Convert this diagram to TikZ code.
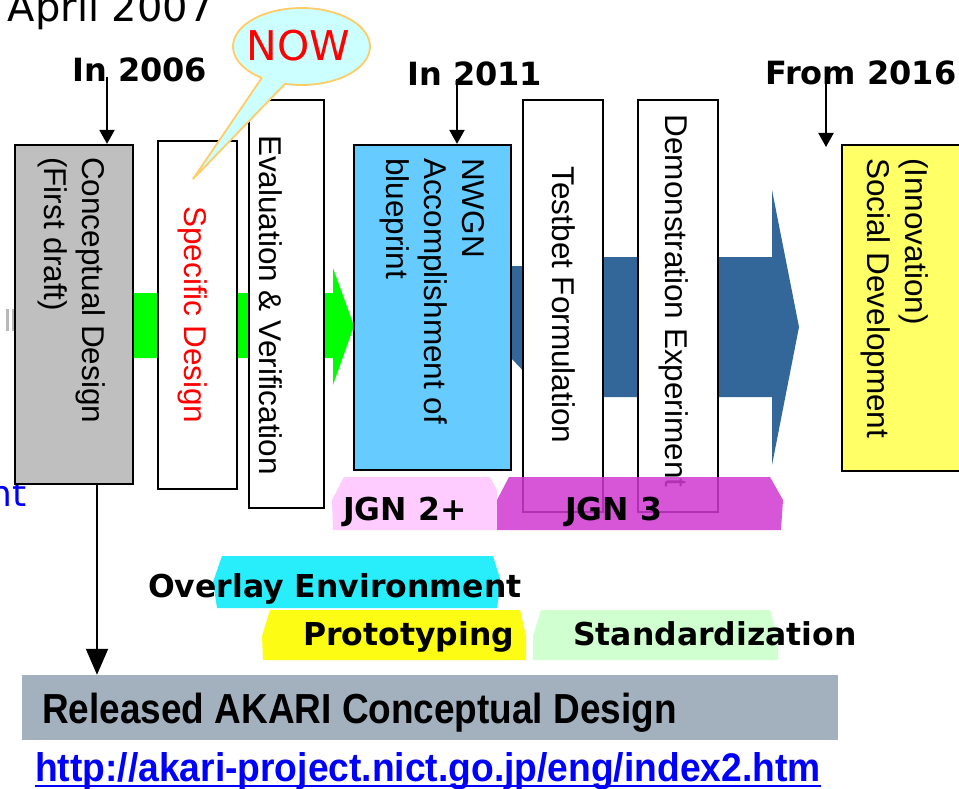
\documentclass[tikz,border=0pt]{standalone}
\usepackage{fontspec}
\usepackage{graphicx}
\setmainfont{Liberation Sans}
\newfontfamily\dejavu{DejaVu Sans}
\usetikzlibrary{arrows.meta}
\definecolor{boxgray}{RGB}{191,191,191}
\definecolor{boxblue}{RGB}{102,204,255}
\definecolor{boxyellow}{RGB}{255,255,102}
\definecolor{arrgreen}{RGB}{0,255,0}
\definecolor{arrblue}{RGB}{51,102,153}
\definecolor{relgray}{RGB}{163,177,191}
\definecolor{jgnpink}{RGB}{255,204,255}
\definecolor{jgnmag}{RGB}{208,56,208}
\definecolor{ovcyan}{RGB}{40,238,252}
\definecolor{protoyellow}{RGB}{252,252,20}
\definecolor{stdgreen}{RGB}{208,255,208}
\definecolor{nowfill}{RGB}{204,255,255}
\definecolor{noworange}{RGB}{255,204,102}
\begin{document}
\begin{tikzpicture}[x=1pt,y=-1pt,
  box/.style={draw=black, line width=2.2pt, inner sep=0pt},
  vtext/.style={rotate=-90, inner sep=0pt, font=\fontsize{31.5}{38}\selectfont, align=left},
  yearlabel/.style={font=\dejavu\bfseries\fontsize{32}{38}\selectfont, inner sep=0pt, anchor=base west},
  taglabel/.style={font=\dejavu\bfseries\fontsize{31.5}{38}\selectfont, inner sep=0pt, anchor=base west},
  pointer/.style={-{Triangle[width=15pt,length=14pt]}, line width=2pt},
  bigpointer/.style={-{Triangle[width=22pt,length=26pt]}, line width=2pt},
]
\clip (0,0) rectangle (959,789);
\fill[white] (0,0) rectangle (959,789);

% top-left fragments
\node[anchor=base east, font=\dejavu\fontsize{40}{48}\selectfont, inner sep=0pt] (april) at (214,22) {April 2007};
\node[anchor=base east, text=blue, font=\dejavu\fontsize{36}{40}\selectfont, inner sep=0pt] (nt) at (27,506) {nt};
\fill[gray!55] (6,309) rectangle (9,331);
\fill[gray!55] (12,309) rectangle (15,331);

% big arrows
\fill[arrgreen] (133,293) -- (333,293) -- (333,268) -- (354,326) -- (333,385) -- (333,358) -- (133,358) -- cycle;
\fill[arrblue] (511,266) -- (530,266) -- (530,257) -- (772,257) -- (772,190) -- (799,327) -- (772,465) -- (772,397) -- (530,397) -- (530,378) -- (511,358) -- cycle;

% boxes
\node[box, fill=boxgray, minimum width=118pt, minimum height=339pt] (cd) at (74,314.5) {};
\node[box, fill=white, minimum width=79pt, minimum height=348pt] (sd) at (197.5,315) {};
\node[box, fill=white, minimum width=75pt, minimum height=408pt] (ev) at (286.5,304) {};
\node[box, fill=boxblue, minimum width=157pt, minimum height=325pt] (nw) at (432.5,307.5) {};
\node[box, fill=white, minimum width=80pt, minimum height=412pt] (tb) at (563,306) {};
\node[box, fill=white, minimum width=80pt, minimum height=412pt] (de) at (678,306) {};
\node[box, fill=boxyellow, minimum width=120pt, minimum height=326pt] (so) at (902,308) {};

% box texts (base anchor of a multi-line node = baseline of its last line)
\node[vtext, anchor=base west] (cdt) at (44,157) {Conceptual Design\\(First draft)};
\node[vtext, anchor=base, text=red] (sdt) at (184,315) {Specific Design};
\node[vtext, anchor=base] (evt) at (259,305) {Evaluation \& Verification};
\node[vtext, anchor=base west] (nwt) at (386,158) {NWGN\\Accomplishment of\\blueprint};
\node[vtext, anchor=base] (tbt) at (552,305) {Testbet Formulation};
\node[vtext, anchor=base] (det) at (665,301) {Demonstration Experiment};
\node[vtext, anchor=base west] (sot) at (867,158) {(Innovation)\\Social Development};

% JGN bars
\fill[jgnpink] (332,500) -- (344,477) -- (490,477) -- (497,490) -- (497,530) -- (333,530) -- cycle;
\fill[jgnmag, opacity=0.85] (497,500) -- (509,477) -- (770,477) -- (783,500) -- (781,530) -- (497,530) -- cycle;
\node[taglabel] (jgn2) at (343,520) {JGN 2+};
\node[taglabel] (jgn3) at (565,520) {JGN 3};

% lower bars
\fill[ovcyan] (213,582) -- (222,556) -- (493,556) -- (501,582) -- (497,608) -- (217,608) -- cycle;
\fill[protoyellow] (262,636) -- (270,610) -- (520,610) -- (526,636) -- (526,660) -- (263,660) -- cycle;
\fill[stdgreen] (533,636) -- (541,610) -- (770,610) -- (778,636) -- (778,660) -- (533,660) -- cycle;
\node[taglabel] (ov) at (148,597) {Overlay Environment};
\node[taglabel] (pr) at (303,645) {Prototyping};
\node[taglabel] (st) at (573,645) {Standardization};

% NOW callout
\coordinate (nowc) at (301.5,46.5);
\coordinate (nowtip) at (193,179);
\filldraw[fill=nowfill, draw=noworange, line width=1.8pt, line join=round]
  (nowtip) -- ([shift={(125.4:68.5 and 38.5)}]nowc)
  arc[start angle=125.4, end angle=463.9, x radius=68.5, y radius=38.5] -- cycle;
\node[text=red, font=\dejavu\fontsize{41}{48}\selectfont, inner sep=0pt] (now) at (298.5,46) {NOW};

% year labels and arrows
\node[yearlabel] (y2006) at (72,82) {In 2006};
\node[yearlabel] (y2011) at (407,86) {In 2011};
\node[yearlabel] (y2016) at (765,85) {From 2016};
\coordinate (a1) at (107,77);
\coordinate (a2) at (457,79);
\coordinate (a3) at (826,80);
\coordinate (a3e) at (826,147);
\draw[pointer] (a1) -- (a1 |- cd.north);
\draw[pointer] (a2) -- (a2 |- nw.north);
\draw[pointer] (a3) -- (a3e);

% released bar
\node[fill=relgray, minimum width=816pt, minimum height=65pt, inner sep=0pt] (rel) at (430,707.5) {};
\node[anchor=base west, inner sep=0pt, font=\bfseries\fontsize{42}{48}\selectfont] (relt) at (42,723) {\scalebox{0.88}[1]{Released AKARI Conceptual Design}};
\coordinate (cdout) at ([xshift=23pt]cd.south);
\draw[bigpointer] (cdout) -- (cdout |- rel.north);

% url
\node[anchor=base west, inner sep=0pt, text=blue, font=\bfseries\fontsize{40}{46}\selectfont] (url) at (35,781) {\scalebox{0.93}[1]{http://akari-project.nict.go.jp/eng/index2.htm}};
\draw[blue, line width=2.5pt] ([yshift=-5pt]url.base west) -- ([yshift=-5pt]url.base east);
\end{tikzpicture}
\end{document}
